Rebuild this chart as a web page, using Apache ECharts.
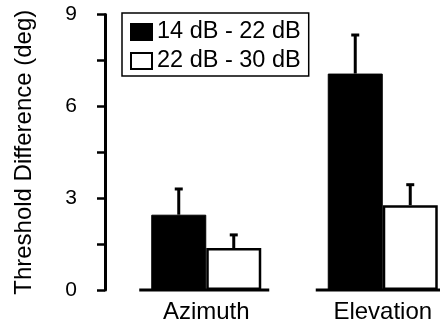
<!DOCTYPE html>
<html>
<head>
<meta charset="utf-8">
<script src="https://cdn.jsdelivr.net/npm/echarts@6/dist/echarts.min.js"></script>
<style>
  html, body { margin: 0; padding: 0; background: #fff; }
  #chart { width: 440px; height: 326px; }
</style>
</head>
<body>
<div id="chart"></div>
<script>
const categories = ["Azimuth", "Elevation"];
const seriesNames = ["14 dB - 22 dB", "22 dB - 30 dB"];
const lowValues = [2.46, 7.07];
const lowErrors = [0.84, 1.26];
const highValues = [1.37, 2.77];
const highErrors = [0.43, 0.67];
const yTicks = [0, 3, 6, 9];

const font = "Liberation Sans, Arial, Helvetica, sans-serif";
const barWidth = 55;

// error bar drawn above each bar, shifted by half a bar to the left/right
function errorBar(shift) {
  return function (params, api) {
    const cat = api.value(0);
    const top = api.value(1);
    const err = api.value(2);
    const p0 = api.coord([cat, top]);
    const p1 = api.coord([cat, top + err]);
    const x = p0[0] + shift;
    const style = { stroke: "#000", lineWidth: 3 };
    return {
      type: "group",
      children: [
        { type: "line", shape: { x1: x, y1: p0[1], x2: x, y2: p1[1] }, style },
        { type: "line", shape: { x1: x - 4, y1: p1[1], x2: x + 4, y2: p1[1] }, style }
      ]
    };
  };
}

// short baseline under each group of bars
function baseline(params, api) {
  const p = api.coord([api.value(0), 0]);
  return {
    type: "line",
    shape: { x1: p[0] - 67, y1: p[1], x2: p[0] + 63, y2: p[1] },
    style: { stroke: "#000", lineWidth: 3 }
  };
}

const chart = echarts.init(document.getElementById("chart"));
chart.setOption({
  animation: false,
  textStyle: { fontFamily: font },
  grid: { left: 118, top: 14.5, width: 353, height: 275.5, outerBoundsMode: "none" },
  legend: {
    data: seriesNames,
    orient: "vertical",
    left: 122,
    top: 13,
    padding: [7, 8, 3, 8],
    itemGap: 5,
    itemWidth: 21,
    itemHeight: 16,
    borderColor: "#000",
    borderWidth: 1.5,
    borderRadius: 0,
    icon: "rect",
    textStyle: { fontSize: 23.5, color: "#000", fontFamily: font }
  },
  xAxis: {
    type: "category",
    data: categories,
    axisLine: { show: false },
    axisTick: { show: false },
    axisLabel: { fontSize: 24, color: "#000", margin: 10 }
  },
  yAxis: {
    type: "value",
    min: 0,
    max: 9,
    interval: 1.5,
    offset: 13,
    name: "Threshold Difference (deg)",
    nameLocation: "middle",
    nameGap: 69,
    nameTextStyle: { fontSize: 24, color: "#000" },
    splitLine: { show: false },
    axisLine: { show: true, lineStyle: { color: "#000", width: 3 } },
    axisTick: { show: true, length: 8, lineStyle: { color: "#000", width: 2.5 } },
    axisLabel: {
      fontSize: 21,
      color: "#000",
      margin: 28,
      formatter: (v) => (yTicks.indexOf(v) >= 0 ? String(v) : "")
    }
  },
  series: [
    {
      name: seriesNames[0],
      type: "bar",
      barWidth: barWidth,
      barGap: "0%",
      itemStyle: { color: "#000", borderColor: "#000", borderWidth: 1 },
      data: lowValues
    },
    {
      name: seriesNames[1],
      type: "bar",
      barWidth: barWidth,
      barGap: "0%",
      itemStyle: { color: "#fff", borderColor: "#000", borderWidth: 2.5 },
      data: highValues
    },
    {
      type: "custom",
      silent: true,
      z: 3,
      renderItem: errorBar(-barWidth / 2),
      data: lowValues.map((v, i) => [i, v, lowErrors[i]])
    },
    {
      type: "custom",
      silent: true,
      z: 3,
      renderItem: errorBar(barWidth / 2),
      data: highValues.map((v, i) => [i, v, highErrors[i]])
    },
    {
      type: "custom",
      silent: true,
      z: 4,
      renderItem: baseline,
      data: categories.map((c, i) => [i])
    }
  ]
});
</script>
</body>
</html>
